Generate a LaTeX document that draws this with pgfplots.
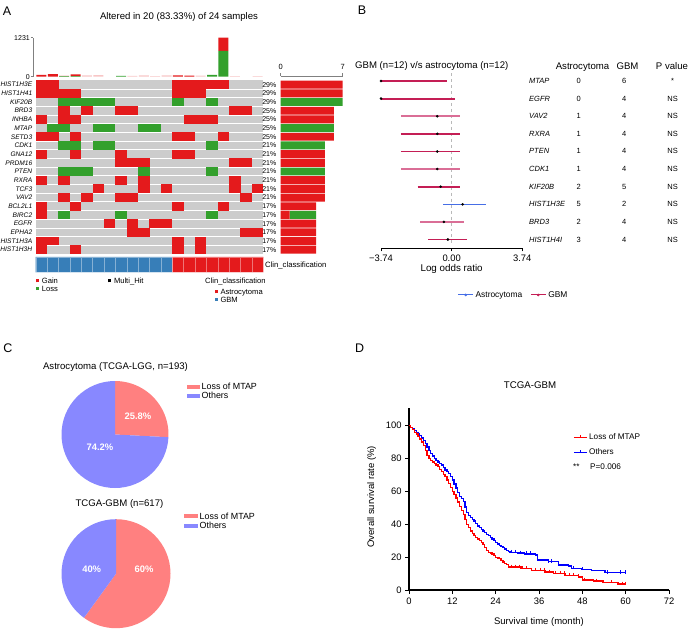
\documentclass[border=0pt]{standalone}
\usepackage{pgfplots}
\pgfplotsset{compat=1.18}
\usepackage{fontspec}
\setmainfont{Liberation Sans}
\newcommand\fsize[1]{\fontsize{#1bp}{#1bp}\selectfont}
\definecolor{gainred}{RGB}{228,26,28}
\definecolor{lossgreen}{RGB}{51,160,44}
\definecolor{cgrey}{RGB}{204,204,204}
\definecolor{clinblue}{RGB}{55,126,184}
\definecolor{gbmdark}{RGB}{196,30,85}
\definecolor{gbmlight}{RGB}{218,110,150}
\definecolor{astroblue}{RGB}{70,110,230}
\definecolor{piered}{RGB}{255,128,128}
\definecolor{pieblue}{RGB}{136,136,255}
\definecolor{kmred}{RGB}{255,0,0}
\definecolor{kmblue}{RGB}{0,0,255}
\pgfdeclareplotmark{cell}{\pgfpathrectangle{\pgfpoint{-5.75bp}{-4.4bp}}{\pgfpoint{11.5bp}{8.8bp}}\pgfusepathqfill}
\def\lossA{25.8}\def\othA{74.2}
\def\lossB{60}\def\othB{40}
\newcommand\frow[5]{%
 \node[anchor=base west, font=\fsize{7.5}\itshape, inner sep=0] at (529bp,-#1bp) {#2};
 \node[anchor=base, font=\fsize{7.5}, inner sep=0] at (578.7bp,-#1bp) {#3};
 \node[anchor=base, font=\fsize{7.5}, inner sep=0] at (624.3bp,-#1bp) {#4};
 \node[anchor=base, font=\fsize{7.5}, inner sep=0] at (672.7bp,-#1bp) {#5};}
\begin{document}
\begin{tikzpicture}
\useasboundingbox (0,0) rectangle (690bp,-631bp);
% ---------------- Panel A ----------------
\node[anchor=base, font=\fsize{12.5}, inner sep=0] at (7bp,-15bp) {A};
\node[anchor=base, font=\fsize{9.6}, inner sep=0] at (179bp,-19.2bp) {Altered in 20 (83.33\%) of 24 samples};
% TMB bars
\begin{axis}[at={(33bp,-76.7bp)}, anchor=south west, scale only axis, width=230.3bp, height=39bp,
 xmin=0.263, xmax=20.5, ymin=0, ymax=1231, ybar stacked, bar width=10bp,
 axis x line=none, axis y line*=left, axis line style={-, draw=gray, line width=0.5bp},
 xtick=\empty, ytick={0,1231}, yticklabels={0,1231}, yticklabel style={font=\fsize{7}, inner sep=1bp},
 tick style={gray, line width=0.5bp}, tick align=outside, major tick length=2bp]
\addplot[fill=lossgreen, draw=none] coordinates {(1,0)(2,0)(3,15)(4,15)(5,0)(6,0)(7,0)(8,25)(9,0)(10,0)(11,0)(12,0)(13,0)(14,0)(15,0)(16,60)(17,815)(18,0)(19,0)(20,0)};
\addplot[fill=gainred, draw=none] coordinates {(1,55)(2,80)(3,15)(4,60)(5,0)(6,0)(7,0)(8,0)(9,0)(10,0)(11,0)(12,0)(13,45)(14,35)(15,0)(16,0)(17,416)(18,0)(19,0)(20,0)};
\addplot[fill=gainred!25, draw=none] coordinates {(1,0)(2,0)(3,0)(4,0)(5,40)(6,50)(7,0)(8,0)(9,25)(10,40)(11,15)(12,40)(13,0)(14,0)(15,35)(16,0)(17,0)(18,20)(19,0)(20,20)};
\end{axis}
% oncoprint
\begin{axis}[at={(35.7bp,-80.3bp)}, anchor=north west, scale only axis, width=227.6bp, height=173.7bp,
 xmin=0.5, xmax=20.5, ymin=0.5, ymax=20.5, y dir=reverse,
 axis background/.style={fill=cgrey}, axis line style={draw=none},
 xtick=\empty, ytick={1,...,20},
 yticklabels={HIST1H3E,HIST1H41,KIF20B,BRD3,INHBA,MTAP,SETD3,CDK1,GNA12,PRDM16,PTEN,RXRA,TCF3,VAV2,BCL2L1,BIRC2,EGFR,EPHA2,HIST1H3A,HIST1H3H},
 yticklabel style={font=\fsize{6.6}\itshape},
 major tick length=0pt, minor tick length=0pt, tick style={draw=none},
 minor xtick={1.5,2.5,...,19.5}, minor ytick={1.5,2.5,...,19.5},
 xminorgrids=true, yminorgrids=true, minor grid style={white, line width=0.8bp},
 axis on top]
\addplot[only marks, mark=cell, color=gainred] coordinates {
(1,1)(2,1)(13,1)(14,1)(15,1)(16,1)(17,1)
(1,2)(2,2)(3,2)(4,2)(13,2)(14,2)(15,2)
(3,4)(5,4)(8,4)(9,4)(18,4)(19,4)
(1,5)(3,5)(4,5)(14,5)(15,5)(16,5)
(1,7)(2,7)(4,7)(13,7)(14,7)(17,7)
(1,9)(4,9)(8,9)(13,9)(14,9)
(8,10)(9,10)(10,10)(18,10)(19,10)
(1,12)(3,12)(8,12)(10,12)(18,12)
(6,13)(10,13)(12,13)(18,13)(20,13)
(3,14)(5,14)(8,14)(9,14)(19,14)
(1,15)(4,15)(13,15)(17,15)
(1,16)
(7,17)(9,17)(11,17)(12,17)
(9,18)(10,18)(19,18)(20,18)
(1,19)(2,19)(13,19)(15,19)
(1,20)(4,20)(13,20)(15,20)};
\addplot[only marks, mark=cell, color=lossgreen] coordinates {
(3,3)(4,3)(5,3)(6,3)(7,3)(13,3)(16,3)
(2,6)(3,6)(6,6)(7,6)(10,6)(11,6)
(3,8)(4,8)(6,8)(7,8)(16,8)
(3,11)(4,11)(5,11)(10,11)(16,11)
(3,16)(8,16)(16,16)};
\end{axis}
% right bars
\begin{axis}[at={(280.7bp,-76bp)}, anchor=north west, scale only axis, width=62bp, height=178bp,
 xmin=0, xmax=7, ymin=0.005, ymax=20.5, y dir=reverse, xbar stacked, bar width=7.9bp,
 axis x line*=top, axis y line*=left,
 x axis line style={-, draw=gray, line width=0.5bp}, y axis line style={draw=none},
 xtick={0,7}, xticklabels={0,7}, xticklabel style={font=\fsize{7.5}}, xtick style={gray, line width=0.5bp},
 tick align=outside, major tick length=3bp,
 ytick={1,...,20}, ytick style={draw=none},
 yticklabels={29\%,29\%,29\%,25\%,25\%,25\%,25\%,21\%,21\%,21\%,21\%,21\%,21\%,21\%,17\%,17\%,17\%,17\%,17\%,17\%},
 yticklabel style={font=\fsize{7}, inner sep=1.2bp}]
\addplot[fill=gainred, draw=none] coordinates {(7,1)(7,2)(0,3)(6,4)(6,5)(0,6)(6,7)(0,8)(5,9)(5,10)(0,11)(5,12)(5,13)(5,14)(4,15)(1,16)(4,17)(4,18)(4,19)(4,20)};
\addplot[fill=lossgreen, draw=none] coordinates {(0,1)(0,2)(7,3)(0,4)(0,5)(6,6)(0,7)(5,8)(0,9)(0,10)(5,11)(0,12)(0,13)(0,14)(0,15)(3,16)(0,17)(0,18)(0,19)(0,20)};
\end{axis}
% clinical bar
\begin{axis}[at={(35.7bp,-256.8bp)}, anchor=north west, scale only axis, width=227.6bp, height=15.5bp,
 xmin=0.5, xmax=20.5, ymin=0, ymax=1, hide axis]
\addplot[ybar interval, fill=clinblue, draw=white, draw opacity=0.4, line width=0.3bp] coordinates {(0.5,1)(1.5,1)(2.5,1)(3.5,1)(4.5,1)(5.5,1)(6.5,1)(7.5,1)(8.5,1)(9.5,1)(10.5,1)(11.5,1)(12.5,1)};
\addplot[ybar interval, fill=gainred, draw=white, draw opacity=0.4, line width=0.3bp] coordinates {(12.5,1)(13.5,1)(14.5,1)(15.5,1)(16.5,1)(17.5,1)(18.5,1)(19.5,1)(20.5,1)};
\end{axis}
\node[anchor=base west, font=\fsize{7.7}, inner sep=0] at (265bp,-267.8bp) {Clin\_classification};
\node[anchor=base west, font=\fsize{7.6}, inner sep=0] at (35.7bp,-283.4bp) {\textcolor{gainred}{\rule[0.95bp]{3.5bp}{3.5bp}}\hspace{2.5bp}Gain};
\node[anchor=base west, font=\fsize{7.6}, inner sep=0] at (35.7bp,-291bp) {\textcolor{lossgreen}{\rule[0.95bp]{3.5bp}{3.5bp}}\hspace{2.5bp}Loss};
\node[anchor=base west, font=\fsize{7.6}, inner sep=0] at (107.3bp,-283.4bp) {\rule[0.95bp]{3.5bp}{3.5bp}\hspace{3bp}Multi\_Hit};
\node[anchor=base west, font=\fsize{7.6}, inner sep=0] at (205bp,-283.4bp) {Clin\_classification};
\node[anchor=base west, font=\fsize{7.6}, inner sep=0] at (214.3bp,-294.4bp) {\textcolor{gainred}{\rule[0.95bp]{3.5bp}{3.5bp}}\hspace{2.5bp}Astrocytoma};
\node[anchor=base west, font=\fsize{7.6}, inner sep=0] at (214.3bp,-302bp) {\textcolor{clinblue}{\rule[0.95bp]{3.5bp}{3.5bp}}\hspace{2.5bp}GBM};
% ---------------- Panel B ----------------
\node[anchor=base, font=\fsize{12.5}, inner sep=0] at (362bp,-14.5bp) {B};
\node[anchor=base west, font=\fsize{9.6}, inner sep=0] at (355bp,-68.5bp) {GBM (n=12) v/s astrocytoma (n=12)};
\node[anchor=base, font=\fsize{9.6}, inner sep=0] at (582.5bp,-69.5bp) {Astrocytoma};
\node[anchor=base, font=\fsize{9.6}, inner sep=0] at (627.5bp,-69.5bp) {GBM};
\node[anchor=base, font=\fsize{9.6}, inner sep=0] at (672bp,-69.5bp) {P value};
\frow{83.4}{MTAP}{0}{6}{*}
\frow{101.0}{EGFR}{0}{4}{NS}
\frow{118.6}{VAV2}{1}{4}{NS}
\frow{136.3}{RXRA}{1}{4}{NS}
\frow{153.9}{PTEN}{1}{4}{NS}
\frow{171.5}{CDK1}{1}{4}{NS}
\frow{189.1}{KIF20B}{2}{5}{NS}
\frow{206.7}{HIST1H3E}{5}{2}{NS}
\frow{224.4}{BRD3}{2}{4}{NS}
\frow{242.0}{HIST1H4I}{3}{4}{NS}
\begin{axis}[at={(381bp,-248.3bp)}, anchor=south west, scale only axis, width=141.3bp, height=176.1bp,
 xmin=-3.74, xmax=3.74, ymin=0.5, ymax=10.5, y dir=reverse, clip=false,
 axis x line*=bottom, axis y line=none, axis line style={-, line width=0.7bp},
 xtick={-3.74,0,3.74}, xticklabels={−3.74,0.00,3.74}, xticklabel style={font=\fsize{9.4}},
 ytick=\empty, tick align=outside, major tick length=3bp, tick style={line width=0.7bp, black},
 xlabel={Log odds ratio}, xlabel style={font=\fsize{9.8}, at={(axis description cs:0.5,-0.119)}, anchor=center},
 legend style={at={(0.938,-0.265)}, anchor=center, draw=none, fill=none, legend columns=2, font=\fsize{8.4},
  /tikz/every even column/.append style={column sep=6bp}},
 legend image code/.code={\draw[#1, line width=1bp] (0bp,0bp) -- (15bp,0bp); \fill[#1] (7.5bp,0bp) circle (1.1bp);}]
\addlegendimage{astroblue}\addlegendentry{Astrocytoma}
\addlegendimage{gbmdark}\addlegendentry{GBM}
\addplot[gray!55, dashed, line width=0.6bp, forget plot] coordinates {(0,0.55)(0,10.35)};
% confidence intervals (lower, upper)
\addplot[gbmdark, line width=1.9bp, forget plot] coordinates {(-3.74,1)(-0.23,1)};
\addplot[gbmdark, line width=1.9bp, forget plot] coordinates {(-3.74,2)(0.17,2)};
\addplot[gbmlight, line width=1.9bp, forget plot] coordinates {(-2.69,3)(0.44,3)};
\addplot[gbmdark, line width=1.9bp, forget plot] coordinates {(-2.69,4)(0.44,4)};
\addplot[gbmdark, line width=1.9bp, forget plot] coordinates {(-2.69,5)(0.44,5)};
\addplot[gbmlight, line width=1.9bp, forget plot] coordinates {(-2.69,6)(0.44,6)};
\addplot[gbmdark, line width=1.9bp, forget plot] coordinates {(-1.80,7)(0.44,7)};
\addplot[astroblue, line width=1.3bp, forget plot] coordinates {(-0.44,8)(1.80,8)};
\addplot[gbmlight, line width=1.9bp, forget plot] coordinates {(-1.66,9)(0.65,9)};
\addplot[gbmdark, line width=1.9bp, forget plot] coordinates {(-1.24,10)(0.83,10)};
% point estimates
\addplot[only marks, mark=*, mark size=1.1bp, black, forget plot] coordinates {
(-3.74,1)(-3.74,2)(-0.76,3)(-0.76,4)(-0.76,5)(-0.76,6)(-0.58,7)(0.58,8)(-0.41,9)(-0.20,10)};
\end{axis}
% ---------------- Panel C ----------------
\node[anchor=base, font=\fsize{12.5}, inner sep=0] at (8bp,-352bp) {C};
\node[anchor=base, font=\fsize{9.6}, inner sep=0] at (115.5bp,-369.5bp) {Astrocytoma (TCGA-LGG, n=193)};
\begin{axis}[at={(115bp,-434.5bp)}, anchor=center, scale only axis, width=107bp, height=107bp,
 xmin=-1, xmax=1, ymin=-1, ymax=1, hide axis, clip=false]
\fill[piered] (axis cs:0,0) -- (axis cs:0,1) arc[start angle=90, end angle={90-\lossA*3.6}, radius=53.5bp] -- cycle;
\fill[pieblue] (axis cs:0,0) -- (axis cs:0,1) arc[start angle=90, end angle={90+\othA*3.6}, radius=53.5bp] -- cycle;
\end{axis}
\node[font=\fsize{9.4}\bfseries, white, inner sep=0] at (138bp,-416bp) {25.8\%};
\node[font=\fsize{9.4}\bfseries, white, inner sep=0] at (100bp,-447bp) {74.2\%};
\node[anchor=base west, font=\fsize{8.9}, inner sep=0] at (187bp,-389.9bp) {\textcolor{piered}{\rule[1.4bp]{13bp}{3.5bp}}\hspace{1.5bp}Loss of MTAP};
\node[anchor=base west, font=\fsize{8.9}, inner sep=0] at (187bp,-398.9bp) {\textcolor{pieblue}{\rule[1.4bp]{13bp}{3.5bp}}\hspace{1.5bp}Others};
\node[anchor=base, font=\fsize{9.6}, inner sep=0] at (119.5bp,-506.8bp) {TCGA-GBM (n=617)};
\begin{axis}[at={(116bp,-573.7bp)}, anchor=center, scale only axis, width=109bp, height=109bp,
 xmin=-1, xmax=1, ymin=-1, ymax=1, hide axis, clip=false]
\fill[piered] (axis cs:0,0) -- (axis cs:0,1) arc[start angle=90, end angle={90-\lossB*3.6}, radius=54.5bp] -- cycle;
\fill[pieblue] (axis cs:0,0) -- (axis cs:0,1) arc[start angle=90, end angle={90+\othB*3.6}, radius=54.5bp] -- cycle;
\end{axis}
\node[font=\fsize{9.4}\bfseries, white, inner sep=0] at (144bp,-569bp) {60\%};
\node[font=\fsize{9.4}\bfseries, white, inner sep=0] at (91.7bp,-569bp) {40\%};
\node[anchor=base west, font=\fsize{8.9}, inner sep=0] at (184bp,-519.2bp) {\textcolor{piered}{\rule[1.4bp]{14bp}{3.5bp}}\hspace{1.5bp}Loss of MTAP};
\node[anchor=base west, font=\fsize{8.9}, inner sep=0] at (184bp,-528.9bp) {\textcolor{pieblue}{\rule[1.4bp]{14bp}{3.5bp}}\hspace{1.5bp}Others};
% ---------------- Panel D ----------------
\node[anchor=base, font=\fsize{12.5}, inner sep=0] at (359.7bp,-352.8bp) {D};
\node[anchor=base, font=\fsize{9.7}, inner sep=0] at (530bp,-388.5bp) {TCGA-GBM};
\begin{axis}[at={(409bp,-590bp)}, anchor=south west, scale only axis, width=260bp, height=181.7bp,
 xmin=0, xmax=72, ymin=0, ymax=110.6,
 axis x line*=bottom, axis y line*=left, axis line style={-, line width=1.2bp},
 xtick={0,12,...,72}, ytick={0,20,...,100}, tick align=outside, major tick length=4bp,
 tick style={line width=1bp, black},
 /pgf/number format/assume math mode=true,
 tick label style={font=\fsize{9.4}},
 xlabel={Survival time (month)}, ylabel={Overall survival rate (\%)},
 label style={font=\fsize{9.5}},
 xlabel style={at={(axis description cs:0.5,-0.1745)}, anchor=center},
 ylabel style={at={(axis description cs:-0.1435,0.513)}, anchor=center},
 legend style={at={(0.62,0.885)}, anchor=north west, draw=none, fill=none, font=\fsize{8.2}, row sep=3.5bp, cells={anchor=west}},
 legend image code/.code={\draw[#1, line width=0.8bp] (0bp,0bp) -- (13bp,0bp); \draw[#1, line width=0.8bp] (6.5bp,0bp) -- (6.5bp,2.5bp);}]
\addlegendimage{kmred}\addlegendentry{Loss of MTAP}
\addlegendimage{kmblue}\addlegendentry{Others}
\addplot[const plot, kmblue, line width=1.3bp, forget plot] coordinates {
(0,100)(0.5,99)(1,98)(1.5,97)(2,96)(2.5,95)(3,94)(3.5,92.5)(4,91)(4.5,89)(5,87)(5.5,85)(6,83)(6.5,81.5)(7,80)(7.5,79)(8,78)(8.5,77)(9,76)(9.5,74.5)(10,73)(10.5,72)(11,71)(11.5,69)(12,67)(12.5,64.5)(13,62)(13.5,59.5)(14,57)(14.5,55.5)(15,54)(15.5,50.5)(16,47)(16.5,45.5)(17,44)(17.5,43)(18,42)(18.5,40.5)(19,39)(19.5,38)(20,37)(20.5,36)(21,35)(21.5,34)(22,33)(22.5,32)(23,31)(23.5,30)(24,29)(24.5,28)(25,27)(25.5,26.5)(26,26)(26.5,25)(27,24)(27.5,23.3)(28,23)(30,22.5)(32,22)(35,21.3)(35.6,18.3)(38.6,17.2)(41.4,15.2)(44.1,14.6)(45,13.2)(47.8,12.6)(50.6,11.8)(54.3,10.5)(60,10.5)};
\addplot[const plot, kmred, line width=1.3bp, forget plot] coordinates {
(0,100)(0.5,99)(1,97.5)(1.5,96)(2,95)(2.5,93.5)(3,92)(3.5,90)(4,88)(4.5,85)(5,82)(5.5,80)(6,79)(6.5,78)(7,77)(7.5,76)(8,75)(8.5,73.5)(9,72)(9.5,70.5)(10,69)(10.5,67)(11,65)(11.5,62.5)(12,60)(12.5,58)(13,56)(13.5,53.5)(14,51)(14.5,48.5)(15,46)(15.5,43)(16,40)(16.5,38)(17,36)(17.5,34.5)(18,33)(18.5,32)(19,31)(19.5,30)(20,29)(20.5,27.5)(21,26)(21.5,24)(22,23)(22.5,22.5)(23,22)(23.5,21)(24,20)(24.5,19.5)(25,19)(25.5,18)(26,17)(26.5,16.3)(27,15.5)(27.5,14)(31,13)(34,12)(37.7,11)(40,10)(43.2,9)(46.9,8)(48,6.1)(51,5.5)(53.7,4.5)(57.9,3.7)(60,3.7)};
\addplot[only marks, mark=|, mark size=1.6bp, kmblue, mark options={line width=0.9bp, yshift=0.8bp}, forget plot] coordinates {
(28.5,23)(29.5,23)(31,22.5)(32.5,22)(33.5,22)(35.6,18.3)(38.5,17.2)(39.5,17.2)(41.5,15.2)(45.5,13.2)(48,12.6)(55,10.5)(58.5,10.5)(60,10.5)};
\addplot[only marks, mark=|, mark size=1.6bp, kmred, mark options={line width=0.9bp, yshift=0.8bp}, forget plot] coordinates {
(28.5,14)(29.5,14)(30.5,14)(31.5,13)(32.5,13)(34,12)(35,12)(36.5,12)(37.5,12)(39,11)(40.5,10)(42,10)(43,10)(44.5,9)(45.5,9)(47,8)(48.5,6.1)(52,5.5)(56,4.5)(59,3.7)(60,3.7)};
\end{axis}
\node[anchor=base west, font=\fsize{8.2}, inner sep=0] at (573bp,-469bp) {**};
\node[anchor=base west, font=\fsize{8.2}, inner sep=0] at (590bp,-469bp) {P=0.006};
\end{tikzpicture}
\end{document}
